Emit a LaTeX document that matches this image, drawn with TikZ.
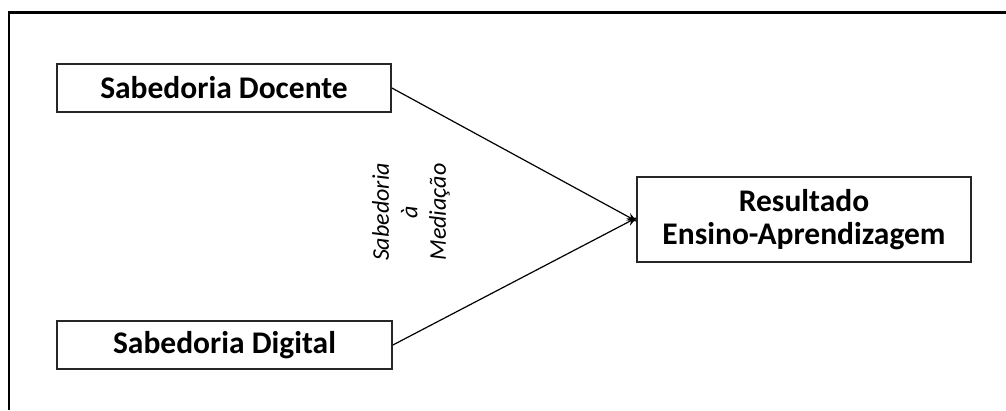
\documentclass[tikz,border=0pt]{standalone}
\usepackage{fontspec}
\setmainfont{Carlito}
\usetikzlibrary{arrows.meta}
\begin{document}
\begin{tikzpicture}[x=1pt,y=-1pt,
  box/.style={draw=black!85,line width=1.8pt,fill=white,inner sep=0pt,align=center,
    font=\fontsize{31.5}{33.5}\selectfont\bfseries},
  conn/.style={line width=1.2pt,-{Stealth[length=10pt,width=8pt]}}]
\useasboundingbox (0,0) rectangle (1006,410);
\draw[line width=2.2pt] (9,410) -- (9,12.5) -- (1006,12.5);
\node[box,minimum width=334pt,minimum height=48pt] (doc) at (224,88) {Sabedoria Docente};
\node[box,minimum width=335pt,minimum height=48pt] (dig) at (224.5,345) {Sabedoria Digital};
\node[box,minimum width=334pt,minimum height=85pt] (res) at (804,219.5) {Resultado\\Ensino-Aprendizagem};
\coordinate (m) at (637,219.5);
\draw[conn] (doc.east) -- ([yshift=-2pt]m);
\draw[conn] (dig.east) -- ([yshift=2pt]m);
\node[rotate=90,align=center,font=\fontsize{24}{28.5}\selectfont\itshape] (lab) at (411,212) {Sabedoria\\à\\Mediação};
\end{tikzpicture}
\end{document}
